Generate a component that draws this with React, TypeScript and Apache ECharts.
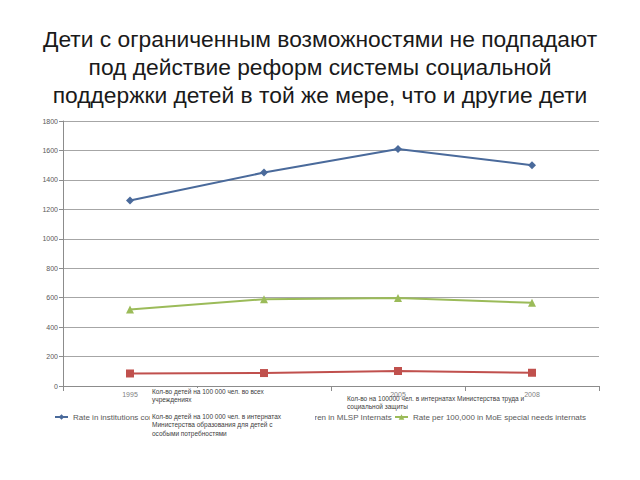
import React, { useEffect, useRef } from "react";
import * as echarts from "echarts";

const titleLines = [
  "Дети с ограниченным возможностями не подпадают",
  "под действие реформ системы социальной",
  "поддержки детей в той же мере, что и другие дети",
];
const categories = ["1995", "2000", "2005", "2008"];
const yTicks = [0, 200, 400, 600, 800, 1000, 1200, 1400, 1600, 1800];
const seriesNames = [
  "Rate in institutions combined",
  "Rate per 100,000 children in MLSP Internats",
  "Rate per 100,000 in MoE special needs internats",
];
const allInstitutions = [1260, 1450, 1610, 1500];
const mlspInternats = [85, 88, 102, 90];
const moeInternats = [520, 590, 598, 565];
const noteAll = ["Кол-во детей на 100 000 чел. во всех", "учреждениях"];
const noteMoe = [
  "Кол-во детей на 100 000 чел. в интернатах",
  "Министерства образования для детей с",
  "особыми потребностями",
];
const noteMlsp = [
  "Кол-во на 100000 чел. в интернатах Министерства труда и",
  "социальной защиты",
];

const colors = ["#4a6a9b", "#c0504d", "#9bbb59"];
const font = "'Liberation Sans', Arial, sans-serif";

export default function App() {
  const ref = useRef<HTMLDivElement>(null);
  useEffect(() => {
    if (!ref.current) return;
    const chart = echarts.init(ref.current, undefined, { renderer: "svg" });
    const data = [allInstitutions, mlspInternats, moeInternats];
    const symbols = ["diamond", "rect", "triangle"];
    const legendTxt = { fontSize: 8, color: "#595959", fontFamily: font };
    const noteStyle = (x: number, y: number, lines: string[]) => ({
      type: "text",
      left: x,
      top: y,
      z: 100,
      style: {
        text: lines.join("\n"),
        fontSize: 6.5,
        lineHeight: 8.5,
        fill: "#404040",
        fontFamily: font,
      },
    });
    chart.setOption({
      animation: false,
      backgroundColor: "#ffffff",
      title: {
        text: titleLines.join("\n"),
        left: "center",
        top: 20,
        textStyle: {
          fontSize: 22.8,
          lineHeight: 28,
          fontWeight: "normal",
          color: "#1a1a1a",
          fontFamily: font,
        },
      },
      grid: { left: 63, right: 41, top: 121, bottom: 94, containLabel: false },
      legend: [
        {
          data: [seriesNames[0]],
          left: 49,
          top: 408,
          itemWidth: 13,
          itemHeight: 7,
          itemGap: 4,
          textStyle: legendTxt,
        },
        {
          data: [seriesNames[1]],
          left: 210,
          top: 408,
          itemWidth: 13,
          itemHeight: 7,
          textStyle: legendTxt,
        },
        {
          data: [seriesNames[2]],
          left: 389,
          top: 408,
          itemWidth: 13,
          itemHeight: 7,
          textStyle: legendTxt,
        },
      ],
      xAxis: {
        type: "category",
        data: categories,
        boundaryGap: true,
        axisLine: { lineStyle: { color: "#8c8c8c", width: 1 } },
        axisTick: { show: true, length: 5, lineStyle: { color: "#8c8c8c" } },
        axisLabel: { fontSize: 7, color: "#7f7f7f", margin: 5, fontFamily: font },
        splitLine: { show: false },
      },
      yAxis: {
        type: "value",
        min: yTicks[0],
        max: yTicks[yTicks.length - 1],
        interval: 200,
        axisLine: { show: true, lineStyle: { color: "#8c8c8c", width: 1 } },
        axisTick: { show: true, length: 4, lineStyle: { color: "#8c8c8c" } },
        axisLabel: {
          fontSize: 7,
          color: "#595959",
          margin: 5,
          fontFamily: font,
          formatter: (v: number) => String(v),
        },
        splitLine: { show: true, lineStyle: { color: "#a6a6a6", width: 1 } },
      },
      series: seriesNames.map((name, i) => ({
        name,
        type: "line",
        data: data[i],
        symbol: symbols[i],
        symbolSize: 8,
        color: colors[i],
        lineStyle: { width: 2, color: colors[i] },
        itemStyle: { color: colors[i] },
      })),
      graphic: [
        {
          type: "rect",
          z: 99,
          shape: { x: 150, y: 388, width: 180, height: 17 },
          style: { fill: "#ffffff" },
        },
        noteStyle(152, 387, noteAll),
        {
          type: "rect",
          z: 99,
          shape: { x: 150, y: 411, width: 165, height: 28 },
          style: { fill: "#ffffff" },
        },
        noteStyle(152, 412, noteMoe),
        noteStyle(347, 394, noteMlsp),
      ],
    });
    return () => chart.dispose();
  }, []);
  return (
    <div
      ref={ref}
      style={{ position: "absolute", left: 0, top: 0, width: 640, height: 480 }}
    />
  );
}
